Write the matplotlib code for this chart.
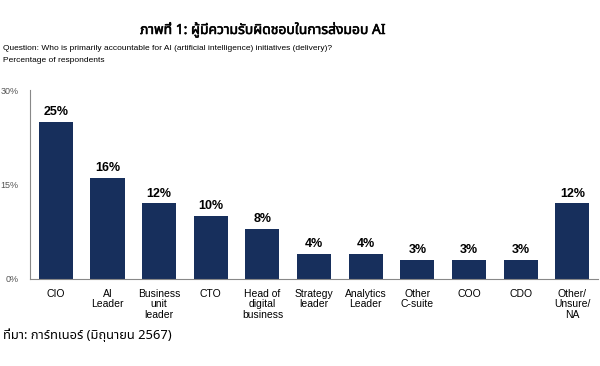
import matplotlib
matplotlib.use("Agg")
import matplotlib.pyplot as plt
import matplotlib.patheffects as pe

# ข้อมูลจากภาพ
categories = ["CIO", "AI\nLeader", "Business\nunit\nleader", "CTO", "Head of\ndigital\nbusiness",
              "Strategy\nleader", "Analytics\nLeader", "Other\nC-suite", "COO", "CDO",
              "Other/\nUnsure/\nNA"]
values = [25, 16, 12, 10, 8, 4, 4, 3, 3, 3, 12]
yticks = [0, 15, 30]

thai_fonts = ["Noto Sans Thai", "Noto Sans Thai UI", "Noto Serif Thai", "Loma", "Garuda",
              "Tlwg Typo", "Kinnari", "Norasi", "Waree", "Sawasdee", "Umpush", "Laksaman",
              "Open Sans", "Lato", "Roboto", "Inter", "Liberation Serif", "DejaVu Serif",
              "Noto Sans CJK JP", "Noto Sans CJK KR", "Noto Sans CJK TC", "DejaVu Sans"]
plt.rcParams["font.family"] = ["Liberation Sans", "DejaVu Sans"]

fig = plt.figure(figsize=(6, 3.66), dpi=100)
ax = fig.add_axes([0.05, 0.238, 0.947, 0.516])

x = range(len(values))
ax.bar(x, values, width=0.66, color="#172f5c")
for i, v in zip(x, values):
    ax.text(i, v + 0.6, f"{v}%", ha="center", va="bottom", fontsize=9,
            fontweight="bold", family=["Liberation Sans"])

ax.set_xlim(-0.5, 10.5)
ax.set_ylim(0, 30)
ax.set_yticks(yticks)
ax.set_yticklabels([f"{t}%" for t in yticks], fontsize=6.5, color="#555555")
ax.set_xticks(list(x))
ax.set_xticklabels(categories, fontsize=7.5, linespacing=1.1)
ax.tick_params(axis="both", length=0)
ax.tick_params(axis="x", pad=7)
ax.tick_params(axis="y", pad=8)
for s in ["top", "right"]:
    ax.spines[s].set_visible(False)
ax.spines["left"].set_color("#888888")
ax.spines["bottom"].set_color("#888888")

fig.text(0.438, 0.918, "ภาพที่ 1: ผู้มีความรับผิดชอบในการส่งมอบ AI", ha="center", va="center",
         fontsize=10, fontweight="bold", family=thai_fonts,
         path_effects=[pe.withStroke(linewidth=0.4, foreground="black")])
fig.text(0.005, 0.868, "Question: Who is primarily accountable for AI (artificial intelligence) initiatives (delivery)?",
         ha="left", va="center", fontsize=6)
fig.text(0.005, 0.836, "Percentage of respondents", ha="left", va="center", fontsize=6)
fig.text(0.005, 0.085, "ที่มา: การ์ทเนอร์ (มิถุนายน 2567)", ha="left", va="center",
         fontsize=9.3, family=thai_fonts)

fig.savefig("out.png", dpi=100)
